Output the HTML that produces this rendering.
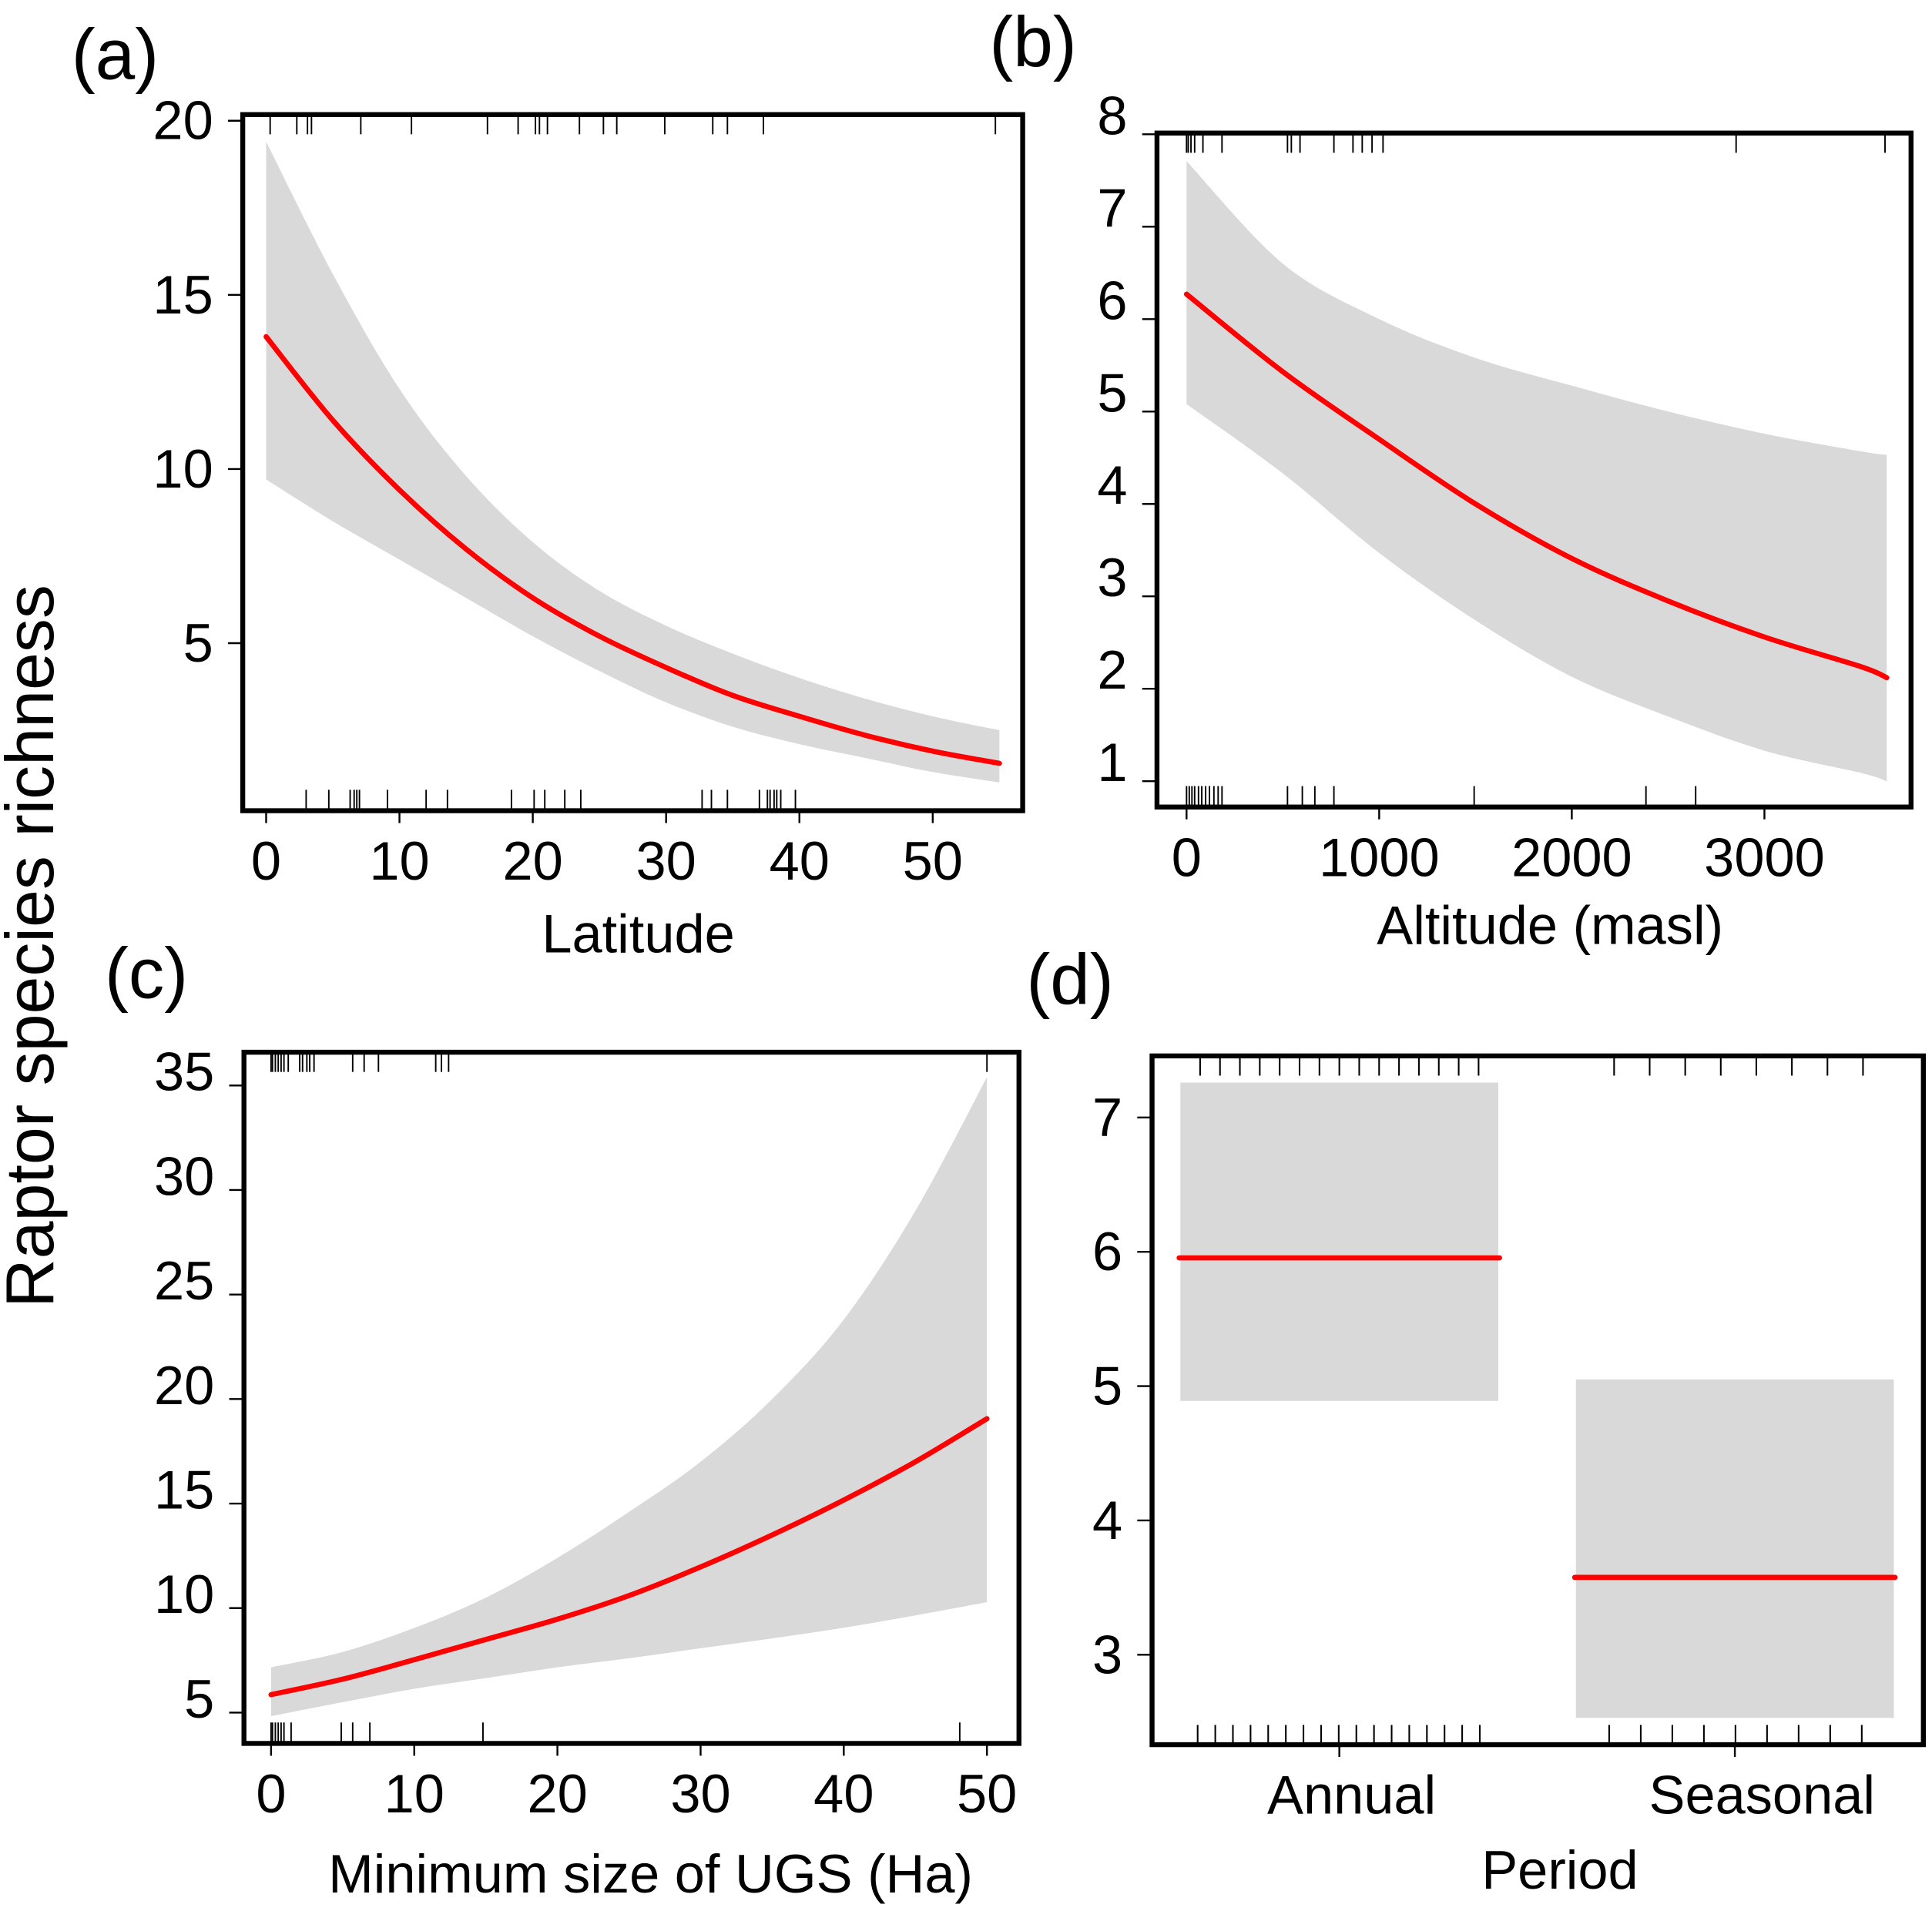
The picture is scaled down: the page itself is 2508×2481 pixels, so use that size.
<!DOCTYPE html>
<html><head><meta charset="utf-8">
<style>
html,body{margin:0;padding:0;background:#fff;}
svg{display:block;}
text{font-family:"Liberation Sans",Arial,sans-serif;fill:#000;}
</style></head>
<body>
<svg id="fig" xmlns="http://www.w3.org/2000/svg" width="2508" height="2481" viewBox="0 0 1568 1551" preserveAspectRatio="none">
<text x="0" y="0" font-size="55" text-anchor="middle" transform="translate(43,768) rotate(-90)">Raptor species richness</text>
</svg>
<script>
// ---------- Panel (a): Latitude ----------
const latX = [0,5,10,15,20,25,30,35,40,45,50,55];
const latMean = [13.8,11.4,9.4,7.7,6.3,5.2,4.3,3.5,2.9,2.35,1.9,1.55];
const latUpper = [19.4,15.6,12.3,9.8,7.9,6.5,5.5,4.7,4.0,3.4,2.9,2.5];
const latLower = [9.7,8.5,7.4,6.3,5.2,4.2,3.3,2.6,2.1,1.7,1.3,1.0];
const latRugTop = [0.3,2.3,3.1,3.4,7.1,10.9,16.6,18.9,20.2,20.5,21.1,23.5,25.3,26.3,29.9,33.5,34.6,37.3,54.7];
const latRugBottom = [3.0,4.7,6.3,6.6,6.8,7.0,9.1,12.0,13.6,18.4,20.1,20.9,22.4,23.6,32.7,33.4,34.6,37.0,37.6,37.8,38.1,38.3,38.6,39.7];
const latXTicks = [0,10,20,30,40,50];
const latYTicks = [5,10,15,20];

// ---------- Panel (b): Altitude ----------
const altX = [0,500,1000,1500,2000,2500,3000,3500,3635];
const altMean = [6.27,5.43,4.70,4.00,3.41,2.95,2.56,2.24,2.12];
const altUpper = [7.71,6.6,6.0,5.58,5.28,5.0,4.76,4.57,4.53];
const altLower = [5.08,4.33,3.47,2.74,2.13,1.70,1.33,1.09,1.0];
const altRugTop = [0,9,23,42,85,184,524,544,589,765,864,912,963,1020,2853,3626];
const altRugBottom = [0,14,28,42,62,79,99,119,142,164,184,524,601,666,765,1493,2385,2643];
const altXTicks = [0,1000,2000,3000];
const altYTicks = [1,2,3,4,5,6,7,8];

// ---------- Panel (c): Minimum size of UGS ----------
const ugsX = [0,5,10,15,20,25,30,35,40,45,50];
const ugsMean = [5.86,6.6,7.53,8.5,9.47,10.6,11.97,13.5,15.17,17.0,19.06];
const ugsUpper = [7.17,7.9,9.05,10.5,12.4,14.6,17.0,20.0,23.8,29.0,35.4];
const ugsLower = [4.83,5.5,6.14,6.65,7.17,7.6,8.08,8.55,9.06,9.65,10.28];
const ugsRugTop = [0,0.1,0.3,0.5,0.7,0.9,1.2,2.0,2.2,2.5,2.7,3.0,5.7,6.5,7.5,11.5,11.9,12.4,50];
const ugsRugBottom = [0,0.1,0.3,0.5,0.7,0.9,1.4,4.9,5.7,6.9,14.8,48.1];
const ugsXTicks = [0,10,20,30,40,50];
const ugsYTicks = [5,10,15,20,25,30,35];

// ---------- Panel (d): Period ----------
const periodCats = ["Annual","Seasonal"];
const periodMean = [5.955,3.576];
const periodUpper = [7.26,5.05];
const periodLower = [4.89,2.53];
const periodYTicks = [3,4,5,6,7];
const periodRugTopCounts = [15,8];
const periodRugBottomCounts = [17,9];

const NS = "http://www.w3.org/2000/svg";
const svg = document.getElementById("fig");
function el(tag, attrs, parent){
  const e = document.createElementNS(NS, tag);
  for (const k in attrs) e.setAttribute(k, attrs[k]);
  (parent||svg).appendChild(e);
  return e;
}
function scale(d0,d1,r0,r1){ return v => r0 + (v-d0)/(d1-d0)*(r1-r0); }
// Catmull-Rom smooth path through points (no leading M)
function smooth(pts){
  let d = "";
  for (let i=0;i<pts.length-1;i++){
    const p0 = pts[Math.max(0,i-1)], p1 = pts[i], p2 = pts[i+1], p3 = pts[Math.min(pts.length-1,i+2)];
    const c1 = [p1[0]+(p2[0]-p0[0])/6, p1[1]+(p2[1]-p0[1])/6];
    const c2 = [p2[0]-(p3[0]-p1[0])/6, p2[1]-(p3[1]-p1[1])/6];
    d += " C"+c1[0]+","+c1[1]+" "+c2[0]+","+c2[1]+" "+p2[0]+","+p2[1];
  }
  return d;
}

function contPanel(p){
  const g = el("g", {});
  
  
  const X = scale(p.xd[0],p.xd[1],p.xr[0],p.xr[1]);
  const Y = scale(p.yd[0],p.yd[1],p.yr[0],p.yr[1]);
  const up = p.xs.map((x,i)=>[X(x),Y(p.up[i])]);
  const lo = p.xs.map((x,i)=>[X(x),Y(p.lo[i])]).reverse();
  const d = "M"+up[0][0]+","+up[0][1]+smooth(up)+" L"+lo[0][0]+","+lo[0][1]+smooth(lo)+" Z";
  const band = el("path", {d:d, fill:"#d9d9d9", stroke:"none"}, g);
  
  
  const mp = p.xs.map((x,i)=>[X(x),Y(p.mean[i])]);
  const line = el("path", {d:"M"+mp[0][0]+","+mp[0][1]+smooth(mp), fill:"none", stroke:"#ff0000", "stroke-width":4.2, "stroke-linecap":"round", "stroke-linejoin":"round"}, g);
  
  
  p.rugTop.forEach(v=>{
    const t = el("line", {x1:X(v),x2:X(v),y1:p.box[1],y2:p.box[1]+16,stroke:"#000","stroke-width":1.2}, g);
    
    
  });
  p.rugBot.forEach(v=>{
    const t = el("line", {x1:X(v),x2:X(v),y1:p.box[3]-17,y2:p.box[3],stroke:"#000","stroke-width":1.2}, g);
    
    
  });
  const b = el("rect", {x:p.box[0],y:p.box[1],width:p.box[2]-p.box[0],height:p.box[3]-p.box[1],fill:"none",stroke:"#000","stroke-width":4}, g);
  
  
  p.xt.forEach(v=>{
    el("line", {x1:X(v),x2:X(v),y1:p.box[3],y2:p.box[3]+10,stroke:"#000","stroke-width":1.5}, g);
    const t = el("text", {x:X(v),y:p.box[3]+56,"font-size":44,"text-anchor":"middle"}, g);
    t.textContent = v;
    
    
  });
  p.yt.forEach(v=>{
    el("line", {x1:p.box[0]-12,x2:p.box[0],y1:Y(v),y2:Y(v),stroke:"#000","stroke-width":1.5}, g);
    const t = el("text", {x:p.box[0]-24,y:Y(v)+p.ylo,"font-size":44,"text-anchor":"end"}, g);
    t.textContent = v;
    
    
  });
  const xt = el("text", {x:p.titlePos[0],y:p.titlePos[1],"font-size":44,"text-anchor":"middle"}, g);
  xt.textContent = p.title;
  
  
  const pl = el("text", {x:p.labPos[0],y:p.labPos[1],"font-size":58}, g);
  pl.textContent = p.lab;
  
  
}

contPanel({name:"panel-a-latitude", box:[197,93,830,658], xd:[0,50], xr:[216,757], yd:[20,5], yr:[98,522],
  xs:latX, mean:latMean, up:latUpper, lo:latLower, rugTop:latRugTop, rugBot:latRugBottom, ylo:15,
  xt:latXTicks, yt:latYTicks, title:"Latitude", titlePos:[518,773], lab:"(a)", labPos:[58,64]});
contPanel({name:"panel-b-altitude", box:[939,108,1551,655], xd:[0,3000], xr:[963,1432], yd:[8,1], yr:[109,634],
  xs:altX, mean:altMean, up:altUpper, lo:altLower, rugTop:altRugTop, rugBot:altRugBottom, ylo:0,
  xt:altXTicks, yt:altYTicks, title:"Altitude (masl)", titlePos:[1258,766], lab:"(b)", labPos:[803,54]});
contPanel({name:"panel-c-ugs-size", box:[198,854,827,1415], xd:[0,50], xr:[220,801], yd:[35,5], yr:[881,1390],
  xs:ugsX, mean:ugsMean, up:ugsUpper, lo:ugsLower, rugTop:ugsRugTop, rugBot:ugsRugBottom, ylo:4,
  xt:ugsXTicks, yt:ugsYTicks, title:"Minimum size of UGS (Ha)", titlePos:[528,1536], lab:"(c)", labPos:[85,810]});

// Panel (d)
(function(){
  const box=[935,857,1561,1416];
  const g = el("g", {});
  
  
  const Y = scale(7,3,907,1343);
  const centers = [1087,1408];
  const labelX = [1097,1430];
  const half = 129;
  periodCats.forEach((c,i)=>{
    const r = el("rect", {x:centers[i]-half,y:Y(periodUpper[i]),width:2*half,height:Y(periodLower[i])-Y(periodUpper[i]),fill:"#d9d9d9"}, g);
    
    
    const l = el("line", {x1:centers[i]-half-1,x2:centers[i]+half+1,y1:Y(periodMean[i]),y2:Y(periodMean[i]),stroke:"#ff0000","stroke-width":4.2,"stroke-linecap":"round"}, g);
    
    
    const nT = periodRugTopCounts[i], nB = periodRugBottomCounts[i];
    const span = i===0 ? [ [974,1200],[972,1201] ] : [ [1310,1512],[1306,1511] ];
    for (let k=0;k<nT;k++){
      const x = span[0][0] + k*(span[0][1]-span[0][0])/(nT-1);
      const t = el("line", {x1:x,x2:x,y1:box[1],y2:box[1]+16,stroke:"#000","stroke-width":1.3}, g);
      
      
    }
    for (let k=0;k<nB;k++){
      const x = span[1][0] + k*(span[1][1]-span[1][0])/(nB-1);
      const t = el("line", {x1:x,x2:x,y1:box[3]-16,y2:box[3],stroke:"#000","stroke-width":1.3}, g);
      
      
    }
    el("line", {x1:centers[i],x2:centers[i],y1:box[3],y2:box[3]+10,stroke:"#000","stroke-width":1.5}, g);
    const tl = el("text", {x:labelX[i],y:box[3]+56,"font-size":44,"text-anchor":"middle"}, g);
    tl.textContent = c;
    
    
  });
  const b = el("rect", {x:box[0],y:box[1],width:box[2]-box[0],height:box[3]-box[1],fill:"none",stroke:"#000","stroke-width":4}, g);
  
  
  periodYTicks.forEach(v=>{
    el("line", {x1:box[0]-12,x2:box[0],y1:Y(v),y2:Y(v),stroke:"#000","stroke-width":1.5}, g);
    const t = el("text", {x:box[0]-24,y:Y(v)+15,"font-size":44,"text-anchor":"end"}, g);
    t.textContent = v;
    
    
  });
  const xt = el("text", {x:1266,y:1533,"font-size":44,"text-anchor":"middle"}, g);
  xt.textContent = "Period";
  
  
  const pl = el("text", {x:833,y:815,"font-size":58}, g);
  pl.textContent = "(d)";
  
  
})();
</script>
</body></html>
